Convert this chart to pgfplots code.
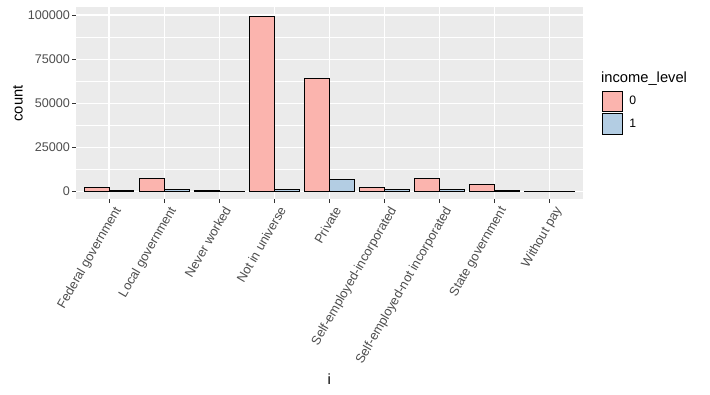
\documentclass[border=0pt]{standalone}
\usepackage{pgfplots}
\pgfplotsset{compat=1.18}
\usepackage{fontspec}
\setmainfont{Liberation Sans}
\definecolor{panel}{HTML}{EBEBEB}
\definecolor{pink0}{HTML}{FBB4AE}
\definecolor{blue1}{HTML}{B3CDE3}
\definecolor{grey30}{HTML}{4D4D4D}
\definecolor{grey20}{HTML}{333333}
\pgfplotsset{
  ggkey/.style={legend image code/.code={%
    \draw[##1, line width=0.8pt] (0pt,-10.3pt) rectangle (20.6pt,10.3pt);
    \path (25pt,0pt);}},
}
\begin{document}
\begin{tikzpicture}[x=1pt,y=1pt]
\useasboundingbox (0,0) rectangle (710,395);
\begin{axis}[
  name=ax,
  at={(76pt,195.5pt)}, anchor=south west,
  scale only axis, width=506.7pt, height=192pt,
  xmin=0.4, xmax=9.6, ymin=-4650, ymax=104250,
  axis background/.style={fill=panel},
  axis line style={draw=none},
  xtick={1,2,3,4,5,6,7,8,9},
  xticklabels={Federal government,Local government,Never worked,Not in universe,Private,Self-employed-incorporated,Self-employed-not incorporated,State government,Without pay},
  ytick={0,25000,50000,75000,100000},
  yticklabels={0,25000,50000,75000,100000},
  minor ytick={12500,37500,62500,87500},
  scaled y ticks=false,
  grid=both,
  major grid style={white, line width=1.1pt},
  minor grid style={white, line width=0.55pt},
  tick align=outside, major tick length=3.7pt, minor tick length=0pt,
  tick style={grey20, line width=0.8pt},
  xtick pos=bottom, ytick pos=left,
  yticklabel style={font=\fontsize{12.6}{14}\selectfont, text=grey30, anchor=east, inner sep=0pt, xshift=-2.3pt},
  xticklabel style={font=\fontsize{12.8}{14}\selectfont, text=grey30, rotate=60, anchor=north east, inner sep=0pt, yshift=-4.5pt, xshift=0.5pt},
  every axis y label/.style={at={(axis description cs:0,0.5)}, anchor=center, xshift=-58pt, rotate=90, font=\fontsize{14.7}{16}\selectfont},
  every axis x label/.style={at={(axis description cs:0.5,0)}, anchor=center, yshift=-180pt, font=\fontsize{14.7}{16}\selectfont},
  ylabel={count}, xlabel={i},
  legend style={at={(axis description cs:1,1)}, anchor=north west, xshift=19pt, yshift=-83.2pt,
    draw=none, fill=none, inner sep=0pt, outer sep=0pt, row sep=1pt,
    font=\fontsize{12.2}{13}\selectfont},
  legend cell align=left,
]
\addplot[ybar, bar width=0.45, bar shift=-0.225, fill=pink0, draw=black, line width=0.8pt, ggkey]
  coordinates {(1,2400) (2,7200) (3,440) (4,99000) (5,64200) (6,2000) (7,7100) (8,3700) (9,160)};
\addlegendentry{0}
\addplot[ybar, bar width=0.45, bar shift=0.225, fill=blue1, draw=black, line width=0.8pt, ggkey]
  coordinates {(1,450) (2,1000) (3,10) (4,1050) (5,6900) (6,850) (7,850) (8,350) (9,5)};
\addlegendentry{1}
\end{axis}
\node[anchor=west, inner sep=0pt, font=\fontsize{14.7}{16}\selectfont] at (ax.north east) [xshift=18.3pt, yshift=-71.5pt] {income\_level};
\end{tikzpicture}
\end{document}
